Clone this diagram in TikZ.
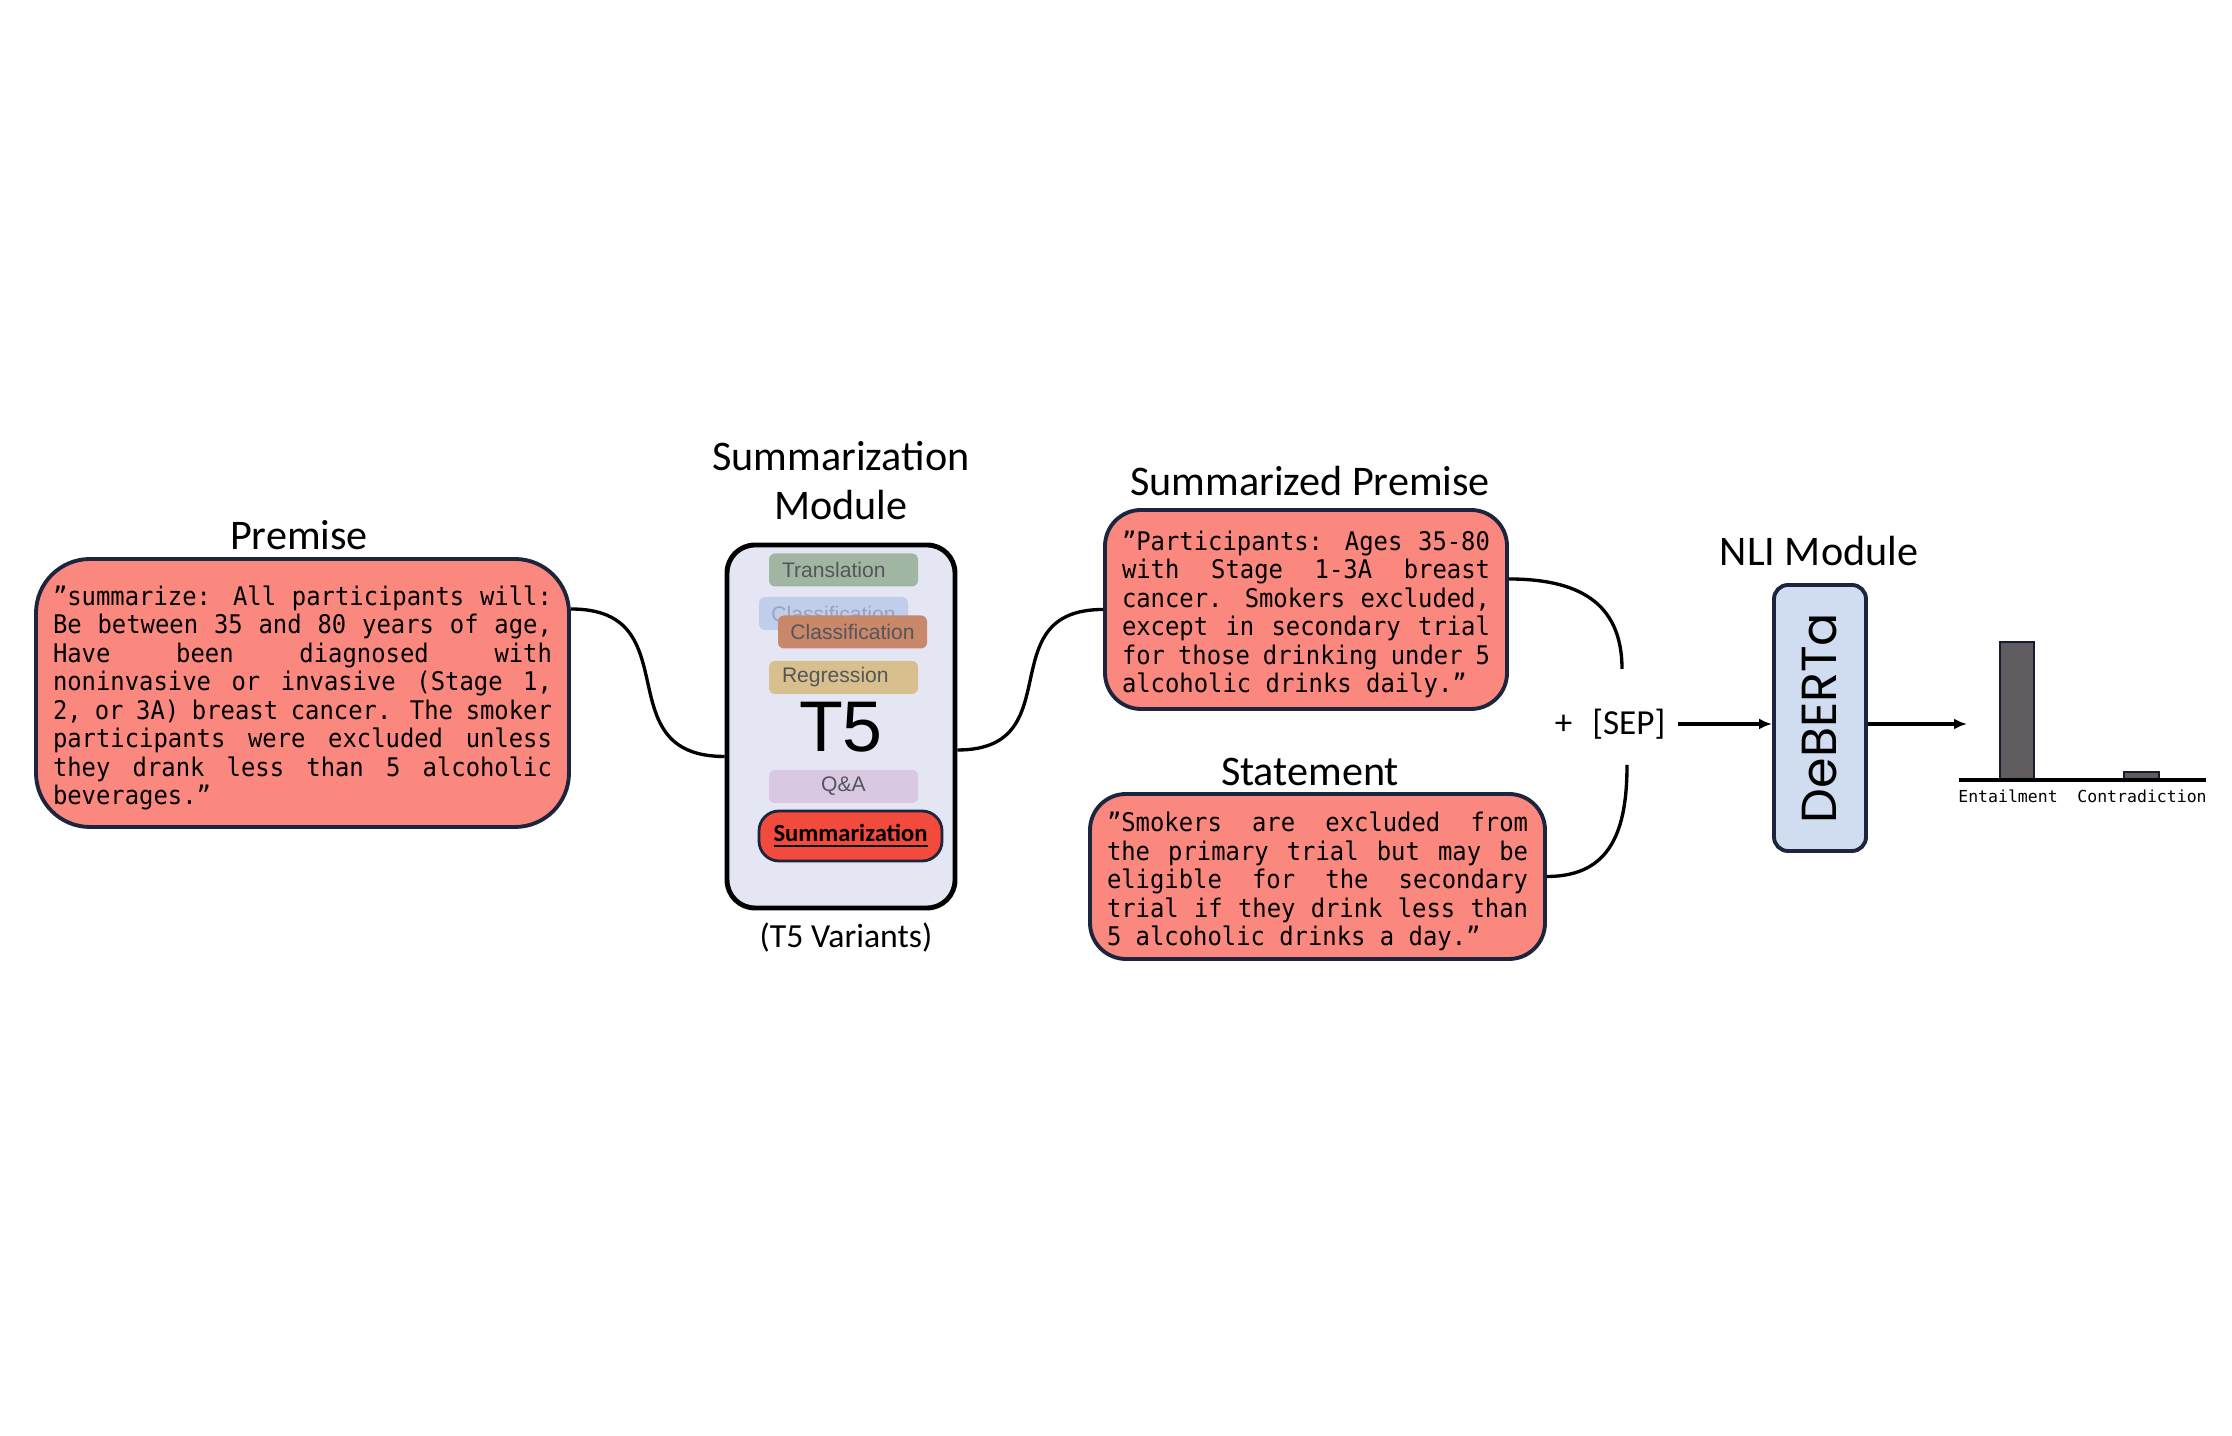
\documentclass[tikz,border=0pt]{standalone}
\usepackage{fontspec}
\usepackage{graphicx}
\usetikzlibrary{arrows.meta}
\newfontfamily\titlefont{Carlito}
\newfontfamily\monofont{DejaVu Sans Mono}
\newfontfamily\boxmono[FakeStretch=0.93]{DejaVu Sans Mono}
\newfontfamily\pillfont{Liberation Sans}
\newfontfamily\debfont{Poppins}
\definecolor{navy}{RGB}{28,36,62}
\definecolor{boxred}{RGB}{250,136,126}
\definecolor{tfivebg}{RGB}{228,231,243}
\definecolor{transgreen}{RGB}{160,182,162}
\definecolor{clsblue}{RGB}{192,206,236}
\definecolor{clsfade}{RGB}{150,162,192}
\definecolor{clsorange}{RGB}{201,136,106}
\definecolor{regtan}{RGB}{216,192,142}
\definecolor{qalilac}{RGB}{216,200,226}
\definecolor{sumred}{RGB}{242,74,60}
\definecolor{pilltext}{RGB}{85,85,90}
\definecolor{debblue}{RGB}{208,220,240}
\definecolor{bargray}{RGB}{95,91,95}
\newcommand\boxtext{\boxmono\fontsize{7.3pt}{8.1pt}\selectfont
  \fontdimen3\font=0.6\fontdimen2\font
  \fontdimen4\font=0.3\fontdimen2\font
  \hyphenpenalty=10000\exhyphenpenalty=10000\relax}
\begin{document}
\begin{tikzpicture}[
  txt/.style={draw=navy, line width=1.1pt, fill=boxred, font=\boxtext,
    align=justify, inner xsep=1.7mm, inner ysep=0pt,
    execute at begin node={\rule{0pt}{8.4pt}}},
  ttl/.style={font=\titlefont\fontsize{12pt}{14pt}\selectfont, align=center},
  pill/.style={rounded corners=0.6mm, minimum width=1.49cm, minimum height=0.33cm,
    inner sep=0pt, font=\pillfont\fontsize{6pt}{7pt}\selectfont, text=pilltext},
  lpill/.style={pill, align=left, text width=1.23cm, inner xsep=1.3mm},
  lbl/.style={font=\monofont\fontsize{4.7pt}{5.6pt}\selectfont, inner sep=0pt},
  bar/.style={draw=navy!80!black, line width=0.6pt, fill=bargray},
  e/.style={line width=0.95pt},
  arr/.style={e, -{Latex[length=1.3mm,width=1.1mm]}}
]
\useasboundingbox (0,0) rectangle (22.32,14.35);

% premise
\node[ttl] (premt) at (2.99,9.00) {Premise};
\node[txt, rounded corners=5.4mm, text width=4.99cm, minimum height=2.68cm] (prem) at (3.025,7.42)
  {”summarize: All participants will:\linebreak
   Be between 35 and 80 years of age,\linebreak
   Have been diagnosed with\linebreak
   noninvasive or invasive (Stage 1,\linebreak
   2, or 3A) breast cancer. The smoker\linebreak
   participants were excluded unless\linebreak
   they drank less than 5 alcoholic\linebreak
   beverages.”};

% T5 module
\node[ttl] (summodt) at (8.41,9.545) {Summarization\\Module};
\node[draw, line width=1.4pt, fill=tfivebg, rounded corners=2.8mm,
  minimum width=2.28cm, minimum height=3.63cm] (t5) at (8.41,7.085) {};
\node[lpill, fill=transgreen] (trans) at (8.435,8.65) {Translation};
\node[pill, fill=clsblue, text=clsfade] (clsb) at (8.335,8.215) {Classification};
\node[pill, fill=clsorange] (cls) at (8.525,8.03) {Classification};
\node[lpill, fill=regtan] (reg) at (8.435,7.575) {Regression};
\node[font=\pillfont\fontsize{20.4pt}{22pt}\selectfont, inner sep=0pt] (t5lbl) at (8.41,7.08) {T5};
\node[pill, fill=qalilac] (qa) at (8.435,6.485) {Q\&A};
\node[draw=navy, line width=0.8pt, fill=sumred, rounded corners=2mm, minimum width=1.83cm,
  minimum height=0.5cm, inner sep=0pt, font=\titlefont\bfseries\fontsize{7pt}{8pt}\selectfont]
  (summ) at (8.505,5.99) {\underline{Summarization}};
\node[ttl, font=\titlefont\fontsize{9.6pt}{11pt}\selectfont] (vart) at (8.46,4.97) {(T5 Variants)};

% summarized premise and statement
\node[ttl] (spremt) at (13.10,9.54) {Summarized Premise};
\node[txt, rounded corners=3.6mm, text width=3.68cm, minimum height=1.99cm] (sprem) at (13.06,8.255)
  {”Participants: Ages 35-80\linebreak
   with Stage 1-3A breast\linebreak
   cancer. Smokers excluded,\linebreak
   except in secondary trial\linebreak
   for those drinking under 5\linebreak
   alcoholic drinks daily.”};
\node[ttl] (stmtt) at (13.10,6.63) {Statement};
\node[txt, rounded corners=3.6mm, text width=4.21cm, minimum height=1.65cm] (stmt) at (13.175,5.585)
  {”Smokers are excluded from\linebreak
   the primary trial but may be\linebreak
   eligible for the secondary\linebreak
   trial if they drink less than\linebreak
   5 alcoholic drinks a day.”};

% join
\node[font=\titlefont\fontsize{10pt}{12pt}\selectfont] (sep) at (16.10,7.11) {+\hspace{2mm}[SEP]};
\coordinate (sepa) at (16.22,7.66);
\coordinate (sepb) at (16.27,6.70);

% NLI module
\node[ttl] (nlit) at (18.19,8.84) {NLI Module};
\node[draw=navy, line width=1.1pt, fill=debblue, rounded corners=1.4mm, minimum width=0.92cm,
  minimum height=2.66cm, inner sep=0pt, font=\debfont\fontsize{14pt}{16pt}\selectfont]
  (deb) at (18.20,7.17) {\rotatebox{90}{DeBERTa}};

% output chart
\coordinate (chartin) at (19.67,7.11);
\draw[bar] (20.00,6.55) rectangle (20.34,7.93);
\draw[bar] (21.24,6.55) rectangle (21.59,6.63);
\draw[line width=1.2pt] (19.59,6.55) -- (22.06,6.55);
\node[lbl] (entl) at (20.08,6.39) {Entailment};
\node[lbl] (contl) at (21.42,6.39) {Contradiction};

% connectors
\draw[e] ([yshift=8.4mm]prem.east) to[out=0,in=180,looseness=1.45] ([yshift=-3mm]t5.west);
\draw[e] ([yshift=-2.35mm]t5.east) to[out=0,in=180,looseness=1.45] (sprem.west);
\draw[e] ([yshift=3.05mm]sprem.east) to[out=0,in=90,looseness=1.2] (sepa);
\draw[e] (stmt.east) to[out=0,in=-90,looseness=1.2] (sepb);
\draw[arr] (sep.east) -- (sep.east -| deb.west);
\draw[arr] (deb.east |- sep) -- (chartin);

\end{tikzpicture}
\end{document}
